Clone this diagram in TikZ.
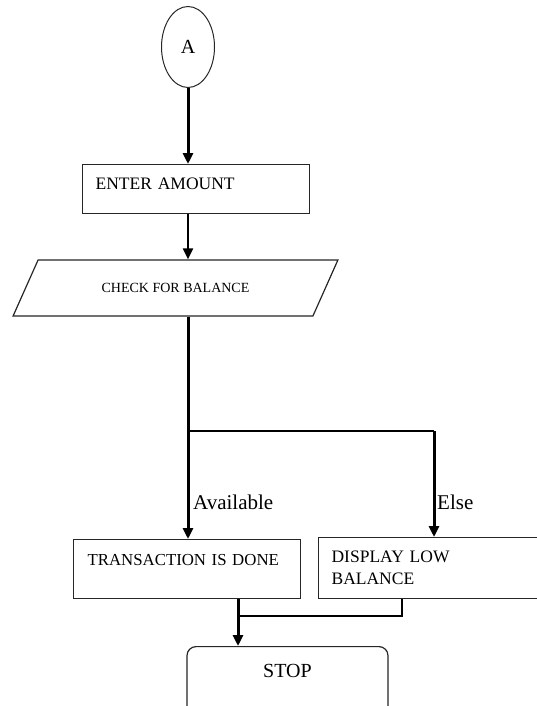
\documentclass[tikz,border=0pt]{standalone}
\usepackage{fontspec}
\setmainfont{Liberation Serif}
\usetikzlibrary{shapes.geometric, arrows.meta, positioning, calc}
\definecolor{FlowBlack}{HTML}{000000}
\definecolor{FlowEdge}{HTML}{262626}
\definecolor{FlowWhite}{HTML}{FFFFFF}
\tikzset{
    box/.style={
        draw=FlowEdge,
        line width=1.2pt,
        fill=FlowWhite,
        text=FlowBlack,
        font=\fontsize{17.5}{22}\selectfont,
        align=left,
        inner xsep=13pt,
        inner ysep=0pt,
        anchor=north west
    },
    iobox/.style={
        trapezium,
        trapezium left angle=35,
        trapezium right angle=145,
        trapezium stretches=true,
        draw=FlowEdge,
        line width=1.2pt,
        fill=FlowWhite,
        text=FlowBlack,
        minimum width=325pt,
        minimum height=56pt,
        inner sep=0pt,
        font=\fontsize{14}{16}\selectfont
    },
    endbox/.style={
        draw=FlowEdge,
        line width=1.2pt,
        rounded corners=9pt,
        fill=FlowWhite,
        text=FlowBlack,
        minimum width=201pt,
        inner sep=0pt,
        align=center,
        font=\fontsize{20}{22}\selectfont,
        anchor=north
    },
    connector/.style={
        ellipse,
        draw=FlowEdge,
        line width=1pt,
        minimum width=53pt,
        minimum height=81pt,
        inner sep=0pt,
        font=\fontsize{20}{22}\selectfont
    },
    lbl/.style={
        inner sep=0pt,
        anchor=base west,
        text=FlowBlack,
        font=\fontsize{21}{23}\selectfont
    },
    arrow/.style={
        -{Triangle[length=11pt,width=10pt]},
        line width=2pt,
        FlowBlack
    },
    bigarrow/.style={
        -{Triangle[length=11pt,width=10pt]},
        line width=3pt,
        FlowBlack
    },
    bigline/.style={
        line width=3pt,
        FlowBlack
    },
    thinline/.style={
        line width=1.3pt,
        FlowBlack
    }
}
\begin{document}
\begin{tikzpicture}[x=1pt, y=-1pt]
    \useasboundingbox (0,0) rectangle (537,706);

    \node[connector] (start) at (188,47) {A};
    \node[box, text width=201pt, text height=25pt, text depth=24pt] (enter) at (82,164) {ENTER AMOUNT};
    \node[iobox] (check) at (175.5,288) {CHECK FOR BALANCE};
    \node[box, inner xsep=14pt, text width=199pt, text height=26pt, text depth=33pt,
        font=\fontsize{16.8}{22}\selectfont] (trans) at (73,539) {TRANSACTION IS DONE};
    \node[box, text width=216pt, text height=25pt, text depth=36pt] (display) at (318,537) {DISPLAY LOW\\BALANCE};
    \node[endbox, text height=31pt, text depth=40pt] (stop) at (287.5,646) {STOP};

    \node[lbl] (availlbl) at (193,509) {Available};
    \node[lbl] (elselbl) at (437,509) {Else};

    \coordinate (split) at (188,431);
    \coordinate (elsetop) at (434,431);
    \coordinate (join) at (238,616);

    % main flow
    \draw[bigarrow] (start.south) -- (enter.north -| start.south);
    \draw[arrow] (enter.south -| start.south) -- (check.north -| start.south);
    \draw[bigline] (check.south -| start.south) -- (split);
    \draw[bigarrow] (split) -- (trans.north -| split);

    % else branch
    \draw[thinline] (split) -- (elsetop);
    \draw[bigarrow] (elsetop) -- (display.north -| elsetop);

    % merge into stop
    \draw[bigline] (trans.south -| join) -- (join);
    \draw[bigarrow] (join) -- (stop.north -| join);
    \draw[thinline] (join) -| ($(display.south west)+(84,0)$);
\end{tikzpicture}
\end{document}
